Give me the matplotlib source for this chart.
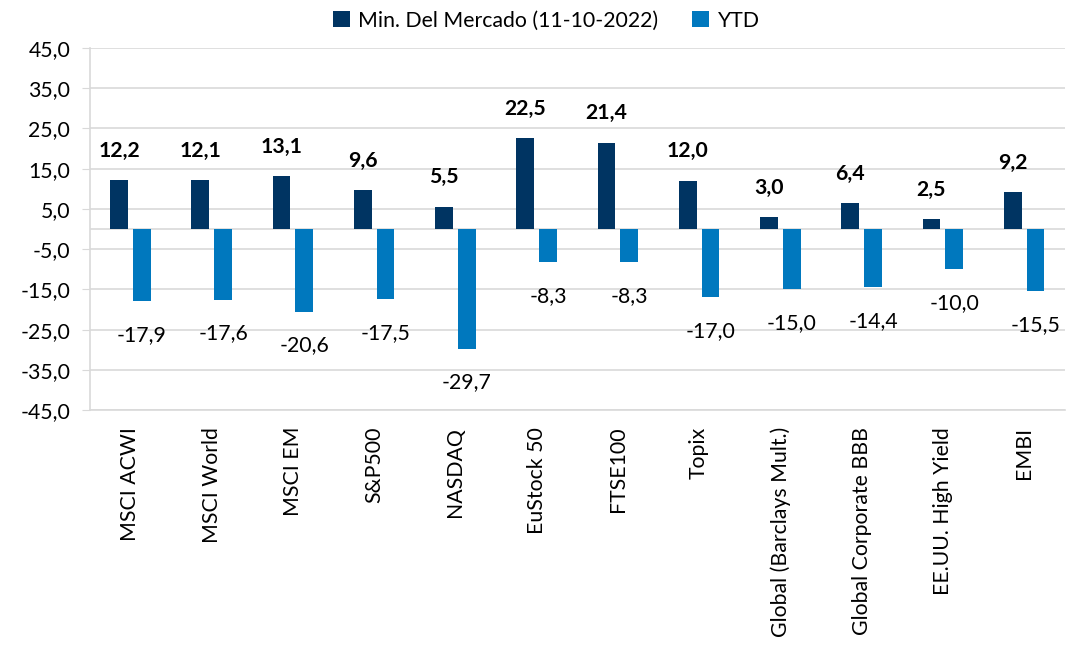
import numpy as np
import matplotlib.pyplot as plt
from matplotlib.ticker import FuncFormatter

# Data
categories = ['MSCI ACWI', 'MSCI World', 'MSCI EM', 'S&P500', 'NASDAQ',
              'EuStock 50', 'FTSE100', 'Topix', 'Global (Barclays Mult.)',
              'Global Corporate BBB', 'EE.UU. High Yield', 'EMBI']
min_mercado = [12.2, 12.1, 13.1, 9.6, 5.5, 22.5, 21.4, 12.0, 3.0, 6.4, 2.5, 9.2]
ytd = [-17.9, -17.6, -20.6, -17.5, -29.7, -8.3, -8.3, -17.0, -15.0, -14.4,
       -10.0, -15.5]
yticks = np.arange(-45, 46, 10)

dark = '#003462'
light = '#0078BE'
fname = 'Lato'
fs = 15.3

plt.rcParams['font.family'] = [fname, 'DejaVu Sans']

fig = plt.figure(figsize=(10.82, 6.47), dpi=100)
ax = fig.add_axes([0.083, 0.366, 0.901, 0.560])

x = np.arange(len(categories))
w = 0.22
off = 0.14
b1 = ax.bar(x - off, min_mercado, w, color=dark, label='Min. Del Mercado (11-10-2022)',
            zorder=3)
b2 = ax.bar(x + off, ytd, w, color=light, label='YTD', zorder=3)

fmt = lambda v: f'{v:.1f}'.replace('.', ',')
ax.bar_label(b1, labels=[fmt(v) for v in min_mercado], padding=14,
             fontsize=fs, fontweight='bold')
ax.bar_label(b2, labels=[fmt(v) for v in ytd], padding=17, fontsize=fs)

ax.set_ylim(-45, 45)
ax.set_xlim(-0.5, len(categories) - 0.5)
ax.set_yticks(yticks)
ax.yaxis.set_major_formatter(FuncFormatter(lambda v, p: fmt(v)))
ax.grid(axis='y', color='#d9d9d9', linewidth=1.2, zorder=0)
ax.axhline(0, color='#d9d9d9', linewidth=1.2, zorder=1)

for s in ['top', 'right']:
    ax.spines[s].set_visible(False)
ax.spines['left'].set_color('#d9d9d9')
ax.spines['bottom'].set_color('#d9d9d9')
ax.spines['left'].set_linewidth(1.2)
ax.spines['bottom'].set_linewidth(1.2)

ax.set_xticks(x)
ax.set_xticklabels(categories, rotation=90, fontsize=fs)
ax.tick_params(axis='x', length=0, pad=12)
ax.tick_params(axis='y', length=6, color='#d9d9d9', labelsize=fs, pad=8)
ax.yaxis.set_tick_params(direction='out')

fig.legend(handles=[b1, b2], loc='upper center', bbox_to_anchor=(0.505, 1.0),
           ncol=2, frameon=False, fontsize=fs, handlelength=0.8,
           handleheight=0.8, handletextpad=0.4, columnspacing=1.6,
           borderaxespad=0.1)

fig.savefig('out.png', dpi=100)
